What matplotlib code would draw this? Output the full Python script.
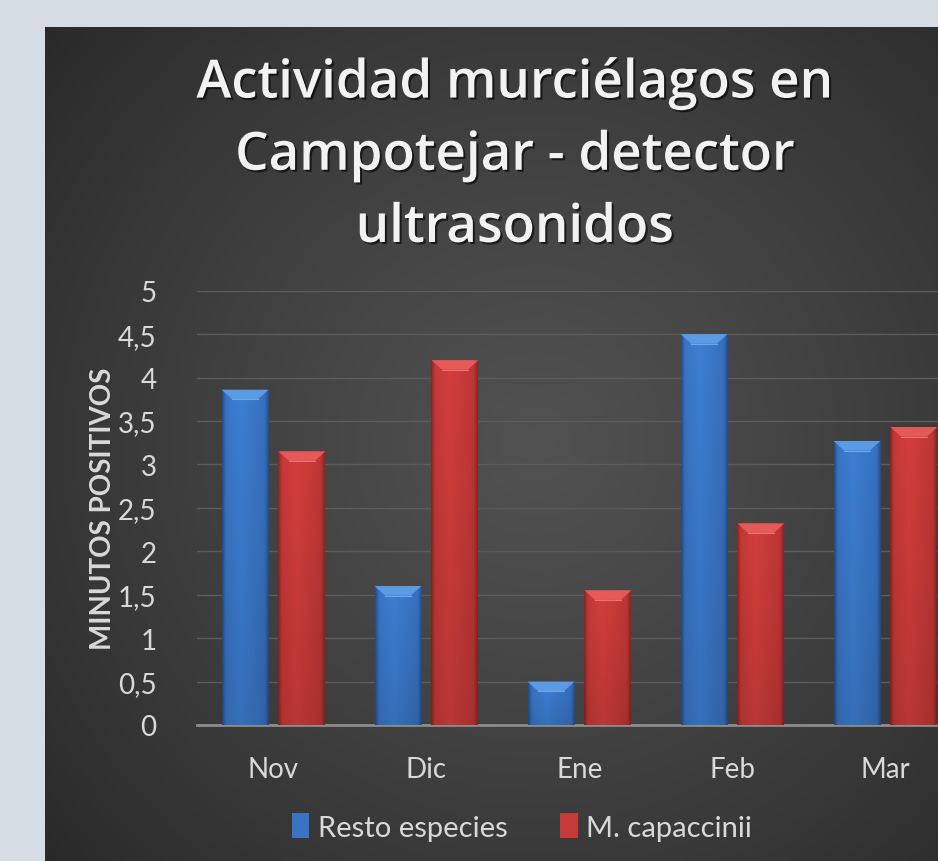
import numpy as np
import matplotlib
matplotlib.use("Agg")
import matplotlib.pyplot as plt
import matplotlib.patheffects as pe
from matplotlib.patches import Polygon

# data
months = ["Nov", "Dic", "Ene", "Feb", "Mar"]
resto = [3.86, 1.60, 0.50, 4.50, 3.27]
capaccinii = [3.15, 4.20, 1.55, 2.32, 3.43]
series_names = ["Resto especies", "M. capaccinii"]
yticks = [0, 0.5, 1, 1.5, 2, 2.5, 3, 3.5, 4, 4.5, 5]
ytick_labels = ["0", "0,5", "1", "1,5", "2", "2,5", "3", "3,5", "4", "4,5", "5"]
title = "Actividad murciélagos en\nCampotejar - detector\nultrasonidos"
ylabel = "MINUTOS POSITIVOS"

plt.rcParams["font.family"] = ["Lato", "DejaVu Sans"]

W, H = 938, 862
fig = plt.figure(figsize=(W / 100, H / 100), dpi=100)
fig.patch.set_facecolor("#d6dce4")

# dark chart panel with a soft radial gradient
bg = fig.add_axes([45 / W, 0, 1 - 45 / W, (H - 28) / H])
bg.set_axis_off()
yy, xx = np.mgrid[0:1:300j, 0:1:300j]
r = np.sqrt(((xx - 0.55) / 0.8) ** 2 + ((yy - 0.5) / 0.85) ** 2)
shade = np.clip(1 - r, 0, 1) ** 0.8
lo = np.array([0x22, 0x22, 0x22]) / 255
hi = np.array([0x52, 0x52, 0x52]) / 255
bg.imshow(lo + (hi - lo) * shade[..., None], extent=[0, 1, 0, 1], aspect="auto")
bg.set_xlim(0, 1)
bg.set_ylim(0, 1)

ax = fig.add_axes([197 / W, (H - 726) / H, 765 / W, (726 - 291.7) / H])
ax.set_facecolor("none")

x = np.arange(len(months))
bw = 0.307
gap = 0.065
off = (bw + gap) / 2

b1 = ax.bar(x - off, resto, width=bw, color="#3a72c4", zorder=3, label=series_names[0])
b2 = ax.bar(x + off, capaccinii, width=bw, color="#c83a38", zorder=3, label=series_names[1])


def shade_bars(bars, dark, mid, light, top):
    dark, mid, light = (np.array(matplotlib.colors.to_rgb(c)) for c in (dark, mid, light))
    t = np.linspace(0, 1, 40)
    prof = np.interp(t, [0, 0.08, 0.4, 0.92, 1], [0, 0.8, 1, 0.7, 0])
    row = dark + (mid - dark) * prof[:, None]
    vert = np.linspace(1.0, 0.88, 60)[:, None, None]
    img = np.clip(row[None, :, :] * vert, 0, 1)
    dx, dy = 0.07, 0.11
    for rect in bars:
        x0, w, h = rect.get_x(), rect.get_width(), rect.get_height()
        im = ax.imshow(img, extent=[x0, x0 + w, 0, h], aspect="auto", zorder=3.5)
        im.set_clip_path(rect)
        ax.add_patch(Polygon([(x0, h), (x0 + w, h), (x0 + w - dx, h - dy), (x0 + dx, h - dy)],
                             closed=True, facecolor=top, edgecolor="none", zorder=4))
        ax.plot([x0 + dx, x0 + w - dx], [h - dy, h - dy], color=light, lw=0.8, zorder=4)


shade_bars(b1, "#284f8e", "#3d7fd3", "#6aa8ec", "#5b9be3")
shade_bars(b2, "#8e2626", "#d33e3c", "#ee7070", "#e35a58")

ax.set_xlim(-0.5, len(months) - 0.5)
ax.set_ylim(0, 5)
ax.set_xticks(x)
ax.set_xticklabels(months)
ax.set_yticks(yticks)
ax.set_yticklabels(ytick_labels)
ax.tick_params(axis="both", length=0, labelsize=20, colors="#d9d9d9")
ax.tick_params(axis="y", pad=29)
ax.tick_params(axis="x", pad=22)
ax.yaxis.grid(True, color="#5c5c5c", lw=1)
ax.set_axisbelow(True)
for s in ["top", "right", "left"]:
    ax.spines[s].set_visible(False)
ax.spines["bottom"].set_color("#8c8c8c")
ax.spines["bottom"].set_linewidth(2)

ax.set_ylabel(ylabel, fontsize=20, fontweight="bold", color="#d9d9d9")
ax.yaxis.set_label_coords(-0.106, 0.5)

shadow = [pe.SimplePatchShadow(offset=(1.5, -1.5), shadow_rgbFace="black", alpha=0.6), pe.Normal()]
fig.text(515 / W, (H - 157) / H, title, ha="center", va="center", fontsize=38,
         fontweight="semibold", color="#f2f2f2", linespacing=1.48, path_effects=shadow,
         family=["Open Sans", "DejaVu Sans"])

fig.legend(handles=[b1, b2], labels=series_names, loc="center",
           bbox_to_anchor=(522 / W, (H - 828) / H), ncol=2, frameon=False,
           handlelength=0.6, handleheight=0.9, handletextpad=0.3, columnspacing=1.8,
           fontsize=21, labelcolor="#d9d9d9")

fig.savefig("out.png", dpi=100, facecolor=fig.get_facecolor())
